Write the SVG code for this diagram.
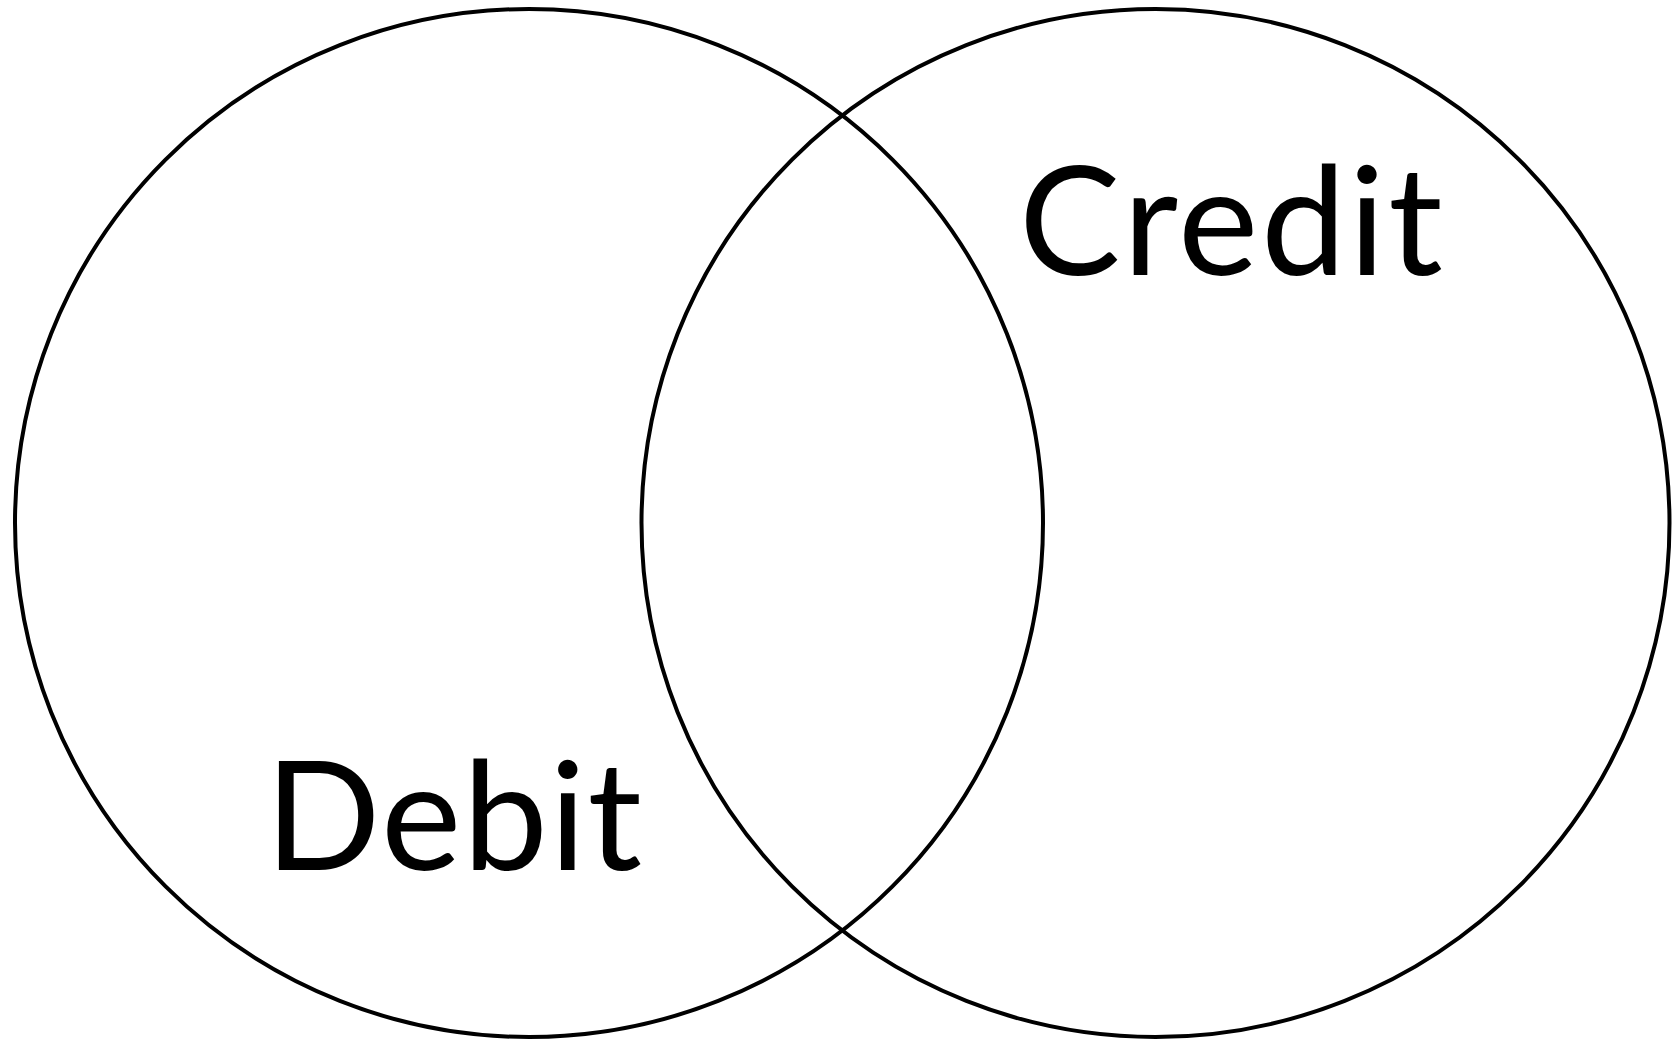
<svg xmlns="http://www.w3.org/2000/svg" width="1673" height="1041" viewBox="0 0 1673 1041">
<style>
.c{fill:none;stroke:#000;stroke-width:4}
.t{font-family:Lato,"Open Sans","Liberation Sans",sans-serif;font-size:152px;fill:#000}
</style>
<rect width="1673" height="1041" fill="#fff"/>
<g id="debit">
<circle class="c" cx="529" cy="523" r="514"/>
<text class="t" x="265" y="870" letter-spacing="1.5">Debit</text>
</g>
<g id="credit">
<circle class="c" cx="1155.5" cy="523" r="514"/>
<text class="t" x="1019" y="275" letter-spacing="2.8">Credit</text>
</g>
<g id="connectors"/>
</svg>
